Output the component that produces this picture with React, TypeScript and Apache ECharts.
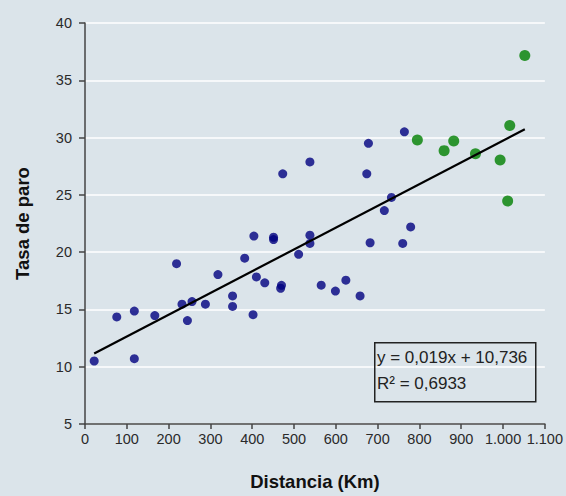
import React, { useEffect, useRef } from "react";
import * as echarts from "echarts";

// Distancia (Km) / Tasa de paro — blue group
const blueX = [22, 76, 118, 118, 167, 219, 232, 245, 256, 288, 318, 353, 353, 382, 402, 404, 410, 430, 451, 451, 468, 470, 473, 511, 538, 538, 538, 565, 599, 624, 658, 674, 678, 682, 716, 733, 760, 764, 779];
const blueY = [10.5, 14.35, 14.86, 10.7, 14.46, 18.99, 15.46, 14.03, 15.69, 15.46, 18.04, 16.18, 15.26, 19.47, 14.54, 21.4, 17.84, 17.32, 21.3, 21.1, 16.85, 17.1, 26.84, 19.81, 27.87, 21.48, 20.76, 17.12, 16.6, 17.55, 16.18, 26.84, 29.5, 20.82, 23.63, 24.78, 20.76, 30.5, 22.2];

// green group
const greenX = [795, 859, 882, 934, 993, 1011, 1016, 1052];
const greenY = [29.79, 28.86, 29.7, 28.59, 28.04, 24.46, 31.05, 37.16];

// linear trend line (from the chart's equation)
const trendSlope = 0.019;
const trendIntercept = 10.736;
const trendX = [22, 1052];

const yTicks = [5, 10, 15, 20, 25, 30, 35, 40];
const xTicks = [0, 100, 200, 300, 400, 500, 600, 700, 800, 900, 1000, 1100];

const equationText = "y = 0,019x + 10,736";
const r2Text = "R\u00B2 = 0,6933";

const FONT = "'Liberation Sans', Arial, sans-serif";
const BG = "#dbe4ea";

function fmtThousands(v: number): string {
  const s = String(Math.round(v));
  return s.replace(/\B(?=(\d{3})+(?!\d))/g, ".");
}

export default function App() {
  const ref = useRef<HTMLDivElement>(null);

  useEffect(() => {
    if (!ref.current) return;
    const chart = echarts.init(ref.current, undefined, { renderer: "svg" });
    const blueData = blueX.map((x, i) => [x, blueY[i]]);
    const greenData = greenX.map((x, i) => [x, greenY[i]]);
    const trendData = trendX.map((x) => [x, trendSlope * x + trendIntercept]);

    chart.setOption({
      animation: false,
      backgroundColor: BG,
      textStyle: { fontFamily: FONT },
      grid: { left: 85, right: 20, top: 23, bottom: 66, containLabel: false },
      xAxis: {
        type: "value",
        min: xTicks[0],
        max: xTicks[xTicks.length - 1],
        interval: 100,
        name: "Distancia (Km)",
        nameLocation: "middle",
        nameGap: 48,
        nameTextStyle: { fontFamily: FONT, fontSize: 18.5, fontWeight: "bold", color: "#111" },
        axisLine: { show: true, lineStyle: { color: "#444", width: 1.5 } },
        axisTick: { show: true, inside: false, length: 5, lineStyle: { color: "#444", width: 1.5 } },
        axisLabel: {
          fontFamily: FONT,
          fontSize: 14.5,
          color: "#2a2a2a",
          margin: 7,
          formatter: (v: number) => fmtThousands(v),
        },
        splitLine: { show: false },
      },
      yAxis: {
        type: "value",
        min: yTicks[0],
        max: yTicks[yTicks.length - 1],
        interval: 5,
        name: "Tasa de paro",
        nameLocation: "middle",
        nameGap: 53,
        nameTextStyle: { fontFamily: FONT, fontSize: 18.5, fontWeight: "bold", color: "#111" },
        axisLine: { show: true, lineStyle: { color: "#444", width: 1.5 } },
        axisTick: { show: true, inside: false, length: 6, lineStyle: { color: "#444", width: 1.5 } },
        axisLabel: { fontFamily: FONT, fontSize: 14.5, color: "#2a2a2a", margin: 13 },
        splitLine: { show: true, lineStyle: { color: "#ffffff", width: 1.5 } },
      },
      series: [
        {
          type: "line",
          data: trendData,
          symbol: "none",
          lineStyle: { color: "#000", width: 2.2 },
          z: 3,
        },
        {
          type: "scatter",
          data: blueData,
          symbol: "circle",
          symbolSize: 9,
          itemStyle: { color: "#000080" },
          z: 2,
        },
        {
          type: "scatter",
          data: greenData,
          symbol: "circle",
          symbolSize: 11,
          itemStyle: { color: "#008000" },
          z: 2,
        },
      ],
      graphic: [
        {
          type: "rect",
          left: 374,
          top: 342,
          shape: { width: 161, height: 59 },
          style: { fill: "transparent", stroke: "#222", lineWidth: 1.5 },
          z: 10,
        },
        {
          type: "text",
          left: 377,
          top: 349,
          style: { text: equationText, font: `17px ${FONT}`, fill: "#222" },
          z: 11,
        },
        {
          type: "text",
          left: 377,
          top: 375,
          style: { text: r2Text, font: `17px ${FONT}`, fill: "#222" },
          z: 11,
        },
      ],
    });

    return () => chart.dispose();
  }, []);

  return (
    <div
      ref={ref}
      style={{ position: "fixed", left: 0, top: 0, width: 566, height: 496, background: BG }}
    />
  );
}
